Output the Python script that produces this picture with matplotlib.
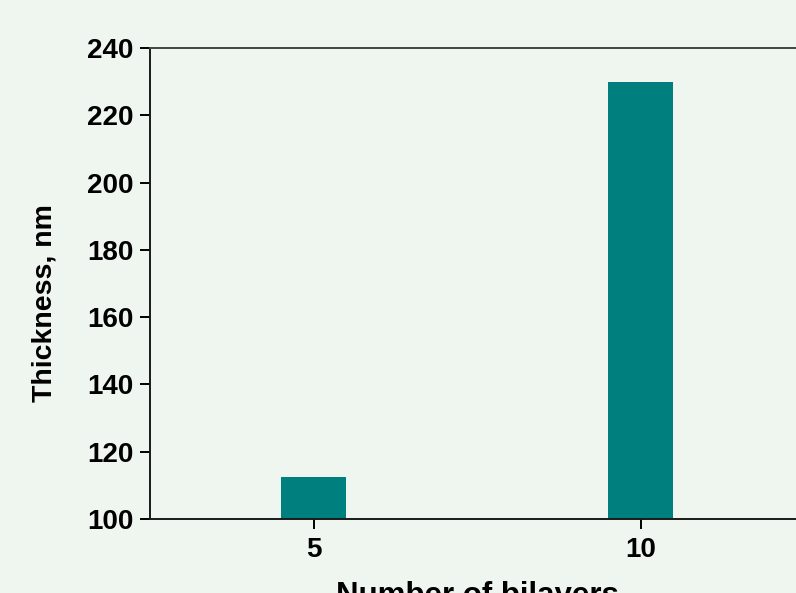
import matplotlib.pyplot as plt

# Film thickness vs number of bilayers
bilayers = [5, 10]
thickness = [112.5, 230]

BG = '#eff6ef'
BAR = '#007f7f'

plt.rcParams['font.family'] = ['Liberation Sans', 'DejaVu Sans']
plt.rcParams['font.weight'] = 'bold'

fig = plt.figure(figsize=(7.96, 5.93), dpi=100, facecolor=BG)
# axes run slightly past the right edge of the canvas
ax = fig.add_axes([150 / 796, 74 / 593, 654 / 796, 471 / 593], facecolor=BG)

ax.bar(bilayers, thickness, width=1.0, bottom=0, color=BAR)

ax.set_xlim(2.5, 12.5)
ax.set_ylim(100, 240)
ax.set_xticks(bilayers)
ax.set_yticks(range(100, 241, 20))

for side in ['left', 'bottom', 'top', 'right']:
    ax.spines[side].set_linewidth(1.4)
    ax.spines[side].set_color('#1a1a1a')
ax.spines['top'].set_color('#444444')

ax.tick_params(axis='both', direction='out', length=7, width=1.4, labelsize=20, pad=5)
ax.tick_params(axis='x', pad=6)
for lbl in ax.get_xticklabels() + ax.get_yticklabels():
    lbl.set_fontweight('bold')

ax.set_ylabel('Thickness, nm', fontsize=20.5, fontweight='bold')
ax.yaxis.set_label_coords(-0.141, 0.459)
ax.set_xlabel('Number of bilayers', fontsize=22.5, fontweight='bold', labelpad=13)

fig.savefig('out.png', dpi=100, facecolor=BG)
